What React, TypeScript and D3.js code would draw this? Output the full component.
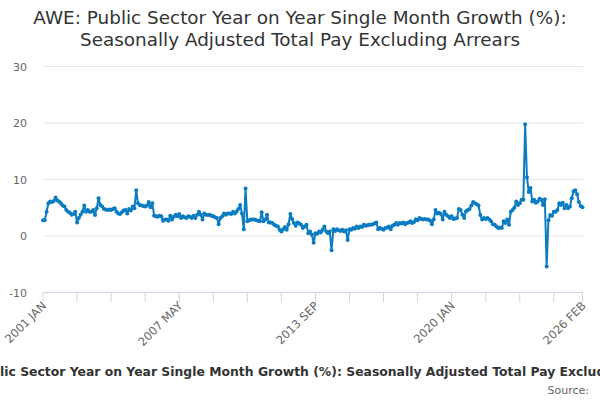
import { useEffect, useRef } from "react";
import * as d3 from "d3";

const titleLines = [
  "AWE: Public Sector Year on Year Single Month Growth (%):",
  "Seasonally Adjusted Total Pay Excluding Arrears",
];
const seriesName =
  "AWE: Public Sector Year on Year Single Month Growth (%): Seasonally Adjusted Total Pay Excluding Arrears";
const sourceText = "Source:";

// monthly values, Jan 2001 .. Feb 2026 (one row per year)
const firstMonth = new Date(2001, 0, 1);
const growth = [
  2.8, 2.8, 4.3, 5.8, 6.1, 6.0, 6.2, 6.8, 6.3, 6.1, 5.8, 5.4,
  5.2, 4.6, 4.3, 4.1, 3.75, 3.9, 4.3, 2.4, 3.2, 3.75, 4.3, 5.4,
  4.3, 4.6, 4.3, 4.3, 4.6, 3.7, 4.9, 6.7, 5.5, 5.2, 4.8, 4.7,
  4.6, 4.7, 4.6, 4.8, 4.9, 4.3, 4.0, 3.9, 4.2, 4.5, 4.6, 4.0,
  4.8, 4.5, 5.2, 4.9, 8.1, 5.8, 5.5, 5.4, 5.3, 5.2, 5.4, 6.0,
  5.1, 5.8, 3.6, 3.5, 3.4, 3.6, 3.5, 2.7, 2.9, 2.9, 2.7, 3.6,
  2.9, 3.4, 3.75, 3.5, 3.9, 3.2, 3.5, 3.3, 3.2, 3.5, 3.4, 3.2,
  3.6, 3.2, 3.75, 4.3, 3.75, 2.9, 4.0, 3.75, 3.7, 3.75, 3.6, 3.5,
  3.3, 3.2, 2.1, 3.2, 3.5, 4.0, 3.75, 4.0, 4.0, 3.9, 4.3, 4.0,
  4.3, 4.8, 5.5, 4.0, 1.2, 8.4, 2.6, 2.8, 2.9, 2.9, 2.9, 2.8,
  2.7, 2.6, 4.2, 2.6, 2.9, 3.75, 2.4, 2.4, 2.3, 2.0, 1.8, 1.7,
  1.1, 0.8, 1.2, 1.6, 1.1, 2.1, 3.9, 3.0, 2.3, 1.8, 2.4, 2.2,
  2.0, 1.4, 1.7, 2.0, 0.5, 0.8, 0.2, -1.2, 0.5, 0.4, 0.8, 0.6,
  1.1, 1.7, 0.8, 0.5, 0.8, -2.5, 1.2, 0.9, 1.2, 1.0, 0.9, 1.1,
  0.8, 1.0, -0.7, 1.2, 1.1, 1.4, 1.3, 1.7, 1.4, 1.7, 1.6, 2.0,
  1.8, 1.9, 2.0, 2.0, 2.1, 2.2, 2.4, 1.2, 1.4, 1.3, 1.1, 1.4,
  1.5, 1.7, 1.2, 1.8, 2.0, 2.3, 2.0, 2.3, 2.2, 2.4, 2.1, 2.3,
  2.4, 2.6, 2.3, 2.5, 2.9, 2.8, 3.2, 3.0, 2.9, 3.0, 2.9, 2.9,
  2.7, 2.1, 2.9, 4.6, 4.0, 4.1, 3.9, 2.9, 4.3, 3.75, 3.5, 3.2,
  3.5, 3.0, 3.1, 3.2, 4.8, 4.6, 3.75, 3.2, 4.4, 4.6, 4.8, 5.4,
  6.0, 5.8, 5.6, 5.4, 3.7, 2.9, 3.2, 3.0, 3.2, 2.9, 2.6, 2.1,
  2.0, 1.7, 1.4, 1.5, 1.4, 2.6, 2.3, 2.9, 2.0, 4.3, 4.6, 5.0,
  6.1, 5.5, 5.8, 6.4, 6.4, 19.8, 10.4, 7.8, 8.5, 6.1, 6.4, 5.9,
  6.1, 6.6, 6.4, 5.5, 6.5, -5.4, 2.8, 3.7, 3.6, 4.3, 4.3, 4.6,
  5.8, 5.5, 5.9, 4.9, 5.5, 4.9, 5.2, 6.7, 7.9, 8.1, 7.4, 6.0,
  5.3, 5.1,
];

const yTicks = [-10, 0, 10, 20, 30];
const labelledMonths = ["2001 JAN", "2007 MAY", "2013 SEP", "2020 JAN", "2026 FEB"];
const tickStep = 19;

const AweChart = () => {
  const svgRef = useRef<SVGSVGElement>(null);

  useEffect(() => {
    if (!svgRef.current) return;
    const width = 600;
    const height = 400;
    const font = "'DejaVu Sans', sans-serif";

    d3.select(svgRef.current).selectAll("*").remove();
    const svg = d3
      .select(svgRef.current)
      .attr("width", width)
      .attr("height", height)
      .style("font-family", font);

    const dates = growth.map((_, i) => d3.timeMonth.offset(firstMonth, i));
    const fmt = (d: Date) => d3.timeFormat("%Y %b")(d).toUpperCase();

    const x = d3.scaleLinear().domain([0, growth.length - 1]).range([43, 582.5]);
    const y = d3.scaleLinear().domain([-10, 30]).range([292.5, 66.5]);

    // title
    svg
      .append("text")
      .attr("text-anchor", "middle")
      .attr("fill", "#333333")
      .style("font-size", "18.4px")
      .selectAll("tspan")
      .data(titleLines)
      .join("tspan")
      .attr("x", width / 2)
      .attr("y", (d, i) => 24 + i * 22)
      .text((d) => d);

    // grid + y labels
    const grid = svg.append("g");
    grid
      .selectAll("line")
      .data(yTicks.filter((t) => t !== -10))
      .join("line")
      .attr("x1", 43)
      .attr("x2", 583)
      .attr("y1", (d) => y(d))
      .attr("y2", (d) => y(d))
      .attr("stroke", "#e6e6e6");
    grid
      .selectAll("text")
      .data(yTicks)
      .join("text")
      .attr("x", 27)
      .attr("y", (d) => y(d) + 4)
      .attr("text-anchor", "end")
      .attr("fill", "#666666")
      .style("font-size", "11px")
      .text((d) => d);

    // x axis
    const tickIdx = d3.range(0, growth.length - 1, tickStep).concat([growth.length - 1]);
    const axis = svg.append("g");
    axis
      .append("line")
      .attr("x1", 43)
      .attr("x2", 583)
      .attr("y1", y(-10))
      .attr("y2", y(-10))
      .attr("stroke", "#ccd6eb");
    axis
      .selectAll("line.tick")
      .data(tickIdx)
      .join("line")
      .attr("class", "tick")
      .attr("x1", (d) => x(d))
      .attr("x2", (d) => x(d))
      .attr("y1", y(-10))
      .attr("y2", y(-10) + 10)
      .attr("stroke", "#ccd6eb");
    axis
      .selectAll("text")
      .data(tickIdx.filter((i) => labelledMonths.includes(fmt(dates[i]))))
      .join("text")
      .attr("text-anchor", "end")
      .attr("transform", (d) => `translate(${x(d) + 4},${y(-10) + 14}) rotate(-45)`)
      .attr("fill", "#666666")
      .style("font-size", "11.5px")
      .text((d) => fmt(dates[d]));

    // series
    const color = "#0a7cc1";
    const line = d3
      .line<number>()
      .x((d, i) => x(i))
      .y((d) => y(d));
    svg
      .append("path")
      .datum(growth)
      .attr("d", line)
      .attr("fill", "none")
      .attr("stroke", color)
      .attr("stroke-width", 2)
      .attr("stroke-linejoin", "round");
    svg
      .append("g")
      .selectAll("circle")
      .data(growth)
      .join("circle")
      .attr("cx", (d, i) => x(i))
      .attr("cy", (d) => y(d))
      .attr("r", 2)
      .attr("fill", color);

    // legend: overflows the chart on both sides, "lic" starts at the left edge
    const legend = svg
      .append("text")
      .attr("y", 376)
      .attr("fill", "#333333")
      .style("font-size", "12.4px")
      .style("font-weight", "bold")
      .text("AWE: Pub");
    const hidden = (legend.node() as SVGTextElement).getComputedTextLength();
    legend.attr("x", -hidden).text(seriesName);

    svg
      .append("text")
      .attr("x", 589)
      .attr("y", 394)
      .attr("text-anchor", "end")
      .attr("fill", "#666666")
      .style("font-size", "11px")
      .text(sourceText);
  }, []);

  return (
    <div style={{ position: "absolute", left: 0, top: 0 }}>
      <svg ref={svgRef}></svg>
    </div>
  );
};

export default AweChart;
